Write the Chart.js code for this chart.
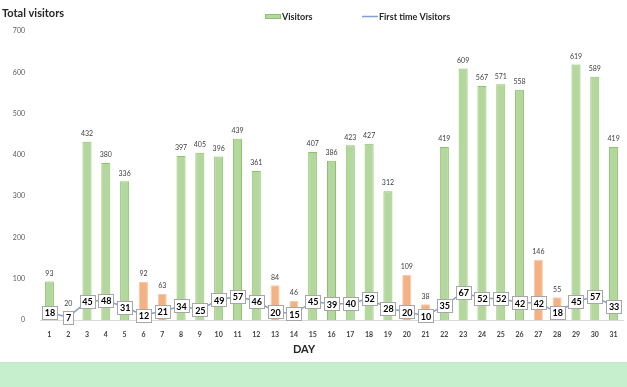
<!DOCTYPE html>
<html>
<head>
<meta charset="utf-8">
<script src="https://cdn.jsdelivr.net/npm/chart.js@4"></script>
<style>
  body { margin: 0; background: #fff; }
  #wrap { position: relative; width: 627px; height: 362px; }
  #band { width: 627px; height: 24px; background: #c6efce; border-top: 1px solid #cfe3d2; border-bottom: 1px solid #b4c7e7; }
</style>
</head>
<body>
<div id="wrap"><canvas id="myChart"></canvas></div>
<div id="band"></div>
<script>
const days = ["1","2","3","4","5","6","7","8","9","10","11","12","13","14","15","16","17","18","19","20","21","22","23","24","25","26","27","28","29","30","31"]
const visitors = [93,20,432,380,336,92,63,397,405,396,439,361,84,46,407,386,423,427,312,109,38,419,609,567,571,558,146,55,619,589,419]
const firstTime = [18,7,45,48,31,12,21,34,25,49,57,46,20,15,45,39,40,52,28,20,10,35,67,52,52,42,42,18,45,57,33]
const weekendDays = ["6","7","13","14","20","21","27","28"]
const yTicks = [0,100,200,300,400,500,600,700]

const FONT = "Lato, 'Liberation Sans', sans-serif"
const barFill = days.map((d) => weekendDays.includes(d) ? "#f4b183" : "#b3d79c")
const barBorder = days.map((d) => weekendDays.includes(d) ? "#f8cbad" : "#8dc26b")

// labels, title, legend and axis title drawn on the canvas
const extras = {
  id: "extras",
  afterDatasetsDraw(chart) {
    const c = chart.ctx
    c.save()
    // bar value labels
    const barMeta = chart.getDatasetMeta(0)
    c.fillStyle = "#404040"
    c.font = "7px " + FONT
    c.textAlign = "center"
    c.textBaseline = "middle"
    barMeta.data.forEach((bar, i) => {
      c.fillText(String(visitors[i]), bar.x, bar.y - 8)
    })
    // line value boxes
    const lineMeta = chart.getDatasetMeta(1)
    c.font = "bold 9px " + FONT
    lineMeta.data.forEach((pt, i) => {
      const txt = String(firstTime[i])
      const w = Math.round(c.measureText(txt).width + 5)
      const h = 13
      const x0 = Math.round(pt.x - w / 2)
      const y0 = Math.round(pt.y - h / 2)
      c.fillStyle = "#fff"
      c.strokeStyle = "#a6a6a6"
      c.lineWidth = 1
      c.fillRect(x0, y0, w, h)
      c.strokeRect(x0 + 0.5, y0 + 0.5, w, h)
      c.fillStyle = "#000"
      c.fillText(txt, pt.x + 0.5, pt.y + 1)
    })
    // title
    c.textAlign = "left"
    c.fillStyle = "#262626"
    c.font = "bold 11px " + FONT
    c.fillText("Total visitors", 2, 13)
    // legend
    c.font = "bold 9px " + FONT
    c.fillStyle = "#b3d79c"
    c.fillRect(265, 14, 16, 5)
    c.strokeStyle = "#8dc26b"
    c.strokeRect(265.5, 14.5, 15, 4)
    c.fillStyle = "#262626"
    c.fillText("Visitors", 282, 17)
    c.strokeStyle = "#7f9fd6"
    c.lineWidth = 1.5
    c.beginPath()
    c.moveTo(362, 16.5)
    c.lineTo(378, 16.5)
    c.stroke()
    c.fillText("First time Visitors", 379, 17)
    // x axis title
    c.textAlign = "center"
    c.font = "bold 11px " + FONT
    c.fillText("DAY", 304, 349)
    c.restore()
  }
}

const ctx = document.getElementById("myChart")
new Chart(ctx, {
  data: {
    labels: days,
    datasets: [{
      type: "bar",
      label: "Visitors",
      data: visitors,
      backgroundColor: barFill,
      borderColor: barBorder,
      borderWidth: 1,
      barPercentage: 0.48,
      categoryPercentage: 1,
      order: 2
    }, {
      type: "line",
      label: "First time Visitors",
      data: firstTime,
      borderColor: "#7f9fd6",
      borderWidth: 1.5,
      pointRadius: 0,
      tension: 0,
      order: 1
    }]
  },
  options: {
    responsive: true,
    maintainAspectRatio: false,
    animation: false,
    layout: { padding: { top: 31, right: 4, left: 0, bottom: 0 } },
    plugins: {
      legend: { display: false },
      tooltip: { enabled: false }
    },
    scales: {
      x: {
        grid: { display: false },
        border: { color: "#d9d9d9" },
        ticks: { font: { family: FONT, size: 7, weight: "bold" }, color: "#404040", padding: 3, maxRotation: 0, autoSkip: false },
        afterFit: (s) => { s.height = 42 }
      },
      y: {
        min: 0,
        max: 700,
        afterBuildTicks: (s) => { s.ticks = yTicks.map((v) => ({ value: v })) },
        grid: { display: false },
        border: { display: false },
        ticks: { font: { family: FONT, size: 7 }, color: "#595959", padding: 7 },
        afterFit: (s) => { s.width = 40 }
      }
    }
  },
  plugins: [extras]
})
</script>
</body>
</html>
